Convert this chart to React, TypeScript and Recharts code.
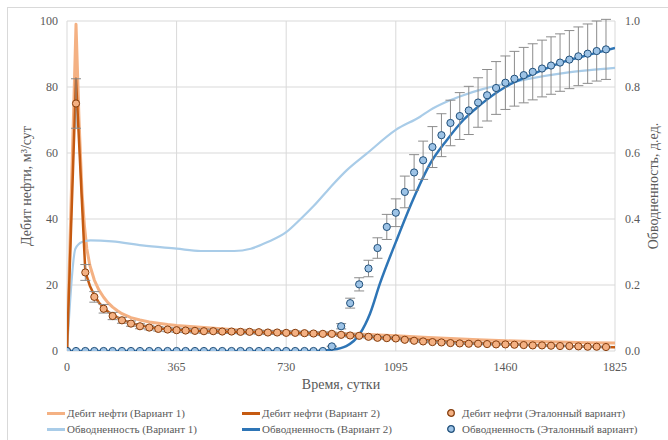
import React from 'react';
import { ComposedChart, Line, Scatter, XAxis, YAxis, CartesianGrid, ErrorBar, Label } from 'recharts';

// ---- reference ("Эталонный вариант") monthly points ----
const refDays = [0, 30, 61, 91, 122, 152, 183, 213, 243, 274, 304, 335, 365, 395, 426, 456, 487, 517, 548, 578, 608, 639, 669, 700, 730, 760, 791, 821, 852, 882, 913, 943, 973, 1004, 1034, 1065, 1095, 1125, 1156, 1186, 1217, 1247, 1277, 1308, 1338, 1369, 1399, 1429, 1460, 1490, 1521, 1551, 1582, 1612, 1642, 1673, 1703, 1734, 1764, 1795];
const refOil = [0, 75, 23.8, 16.4, 12.8, 10.6, 9.3, 8.3, 7.5, 7.1, 6.7, 6.5, 6.3, 6.2, 6.1, 6.0, 6.0, 5.9, 5.9, 5.8, 5.8, 5.7, 5.6, 5.6, 5.5, 5.5, 5.4, 5.3, 5.2, 5.2, 4.9, 4.7, 4.6, 4.3, 4.0, 3.9, 3.8, 3.4, 3.1, 2.9, 2.7, 2.6, 2.4, 2.3, 2.2, 2.2, 2.1, 2.0, 2.0, 1.9, 1.8, 1.7, 1.7, 1.6, 1.5, 1.5, 1.4, 1.3, 1.3, 1.2];
const refOilErr = [0, 7.5, 2.4, 1.6, 1.3, 1.1, 0.9, 0.8, 0.75, 0.7, 0.67, 0.65, 0.63, 0.62, 0.61, 0.6, 0.6, 0.59, 0.59, 0.58, 0.58, 0.57, 0.56, 0.56, 0.55, 0.55, 0.54, 0.53, 0.52, 0.52, 0.49, 0.47, 0.46, 0.43, 0.4, 0.39, 0.38, 0.34, 0.31, 0.29, 0.27, 0.26, 0.24, 0.23, 0.22, 0.22, 0.21, 0.2, 0.2, 0.19, 0.18, 0.17, 0.17, 0.16, 0.15, 0.15, 0.14, 0.13, 0.13, 0.12];
const refWater = [0, 0, 0, 0, 0, 0, 0, 0, 0, 0, 0, 0, 0, 0, 0, 0, 0, 0, 0, 0, 0, 0, 0, 0, 0, 0, 0, 0, 0, 0.014, 0.075, 0.145, 0.202, 0.25, 0.312, 0.376, 0.419, 0.482, 0.541, 0.578, 0.618, 0.654, 0.691, 0.712, 0.729, 0.753, 0.775, 0.797, 0.813, 0.825, 0.836, 0.846, 0.856, 0.865, 0.874, 0.883, 0.893, 0.901, 0.909, 0.914];
const refWaterErr = [0, 0, 0, 0, 0, 0, 0, 0, 0, 0, 0, 0, 0, 0, 0, 0, 0, 0, 0, 0, 0, 0, 0, 0, 0, 0, 0, 0, 0, 0.001, 0.008, 0.015, 0.02, 0.025, 0.031, 0.038, 0.042, 0.048, 0.054, 0.058, 0.062, 0.065, 0.069, 0.071, 0.073, 0.075, 0.078, 0.08, 0.081, 0.083, 0.084, 0.085, 0.086, 0.087, 0.087, 0.088, 0.089, 0.09, 0.091, 0.091];

// ---- Вариант 1 / Вариант 2 curves ----
const v1OilDays = [0, 30, 40, 50, 58, 66, 76, 91, 106, 122, 137, 152, 168, 183, 213, 243, 274, 304, 335, 365, 410, 456, 502, 547, 593, 639, 684, 730, 821, 912, 1004, 1095, 1186, 1277, 1369, 1460, 1551, 1642, 1734, 1825];
const v1Oil = [0, 99, 70, 48, 38, 31, 26, 21.5, 18.5, 16.3, 14.6, 13.3, 12.2, 11.3, 10.1, 9.4, 8.8, 8.4, 8.0, 7.7, 7.4, 7.1, 6.8, 6.5, 6.3, 6.1, 6.0, 5.8, 5.5, 5.3, 5.0, 4.6, 4.2, 3.8, 3.4, 3.1, 2.9, 2.7, 2.5, 2.4];
const v2OilDays = [0, 30, 61, 76, 91, 106, 122, 137, 152, 168, 183, 213, 243, 274, 304, 335, 365, 456, 547, 639, 730, 821, 882, 943, 1004, 1095, 1186, 1277, 1369, 1460, 1551, 1642, 1734, 1825];
const v2Oil = [0, 82.5, 24, 19.8, 16.9, 14.7, 13.1, 11.9, 11.0, 10.2, 9.5, 8.5, 7.8, 7.3, 6.9, 6.6, 6.4, 6.0, 5.8, 5.6, 5.5, 5.3, 5.2, 4.8, 4.4, 3.8, 3.3, 2.8, 2.4, 2.1, 1.8, 1.6, 1.3, 1.1];
const v1WaterDays = [0, 28, 50, 78, 150, 250, 365, 445, 557, 612, 668, 730, 778, 822, 876, 932, 998, 1095, 1176, 1209, 1264, 1320, 1390, 1460, 1550, 1653, 1740, 1825];
const v1Water = [0, 0.31, 0.33, 0.335, 0.332, 0.32, 0.31, 0.303, 0.303, 0.31, 0.33, 0.36, 0.40, 0.44, 0.495, 0.548, 0.598, 0.67, 0.71, 0.73, 0.755, 0.775, 0.795, 0.81, 0.827, 0.842, 0.851, 0.858];
const v2WaterDays = [0, 820, 882, 930, 976, 1009, 1042, 1095, 1153, 1209, 1264, 1320, 1375, 1460, 1542, 1653, 1740, 1825];
const v2Water = [0, 0, 0.004, 0.015, 0.053, 0.113, 0.204, 0.33, 0.46, 0.567, 0.638, 0.70, 0.745, 0.80, 0.835, 0.876, 0.898, 0.918];

// ---- axes ----
const xTicks = [0, 365, 730, 1095, 1460, 1825];
const leftTicks = [0, 20, 40, 60, 80, 100];
const rightTicks = [0, 0.2, 0.4, 0.6, 0.8, 1.0];

const seriesNames = [
  'Дебит нефти (Вариант 1)',
  'Дебит нефти (Вариант 2)',
  'Дебит нефти (Эталонный вариант)',
  'Обводненность (Вариант 1)',
  'Обводненность (Вариант 2)',
  'Обводненность (Эталонный вариант)',
];

const C = {
  v1Oil: '#F4B183',
  v2Oil: '#C55A11',
  refOilFill: '#F4B183',
  refOilStroke: '#843C0C',
  v1Water: '#A9CCE8',
  v2Water: '#2E75B6',
  refWaterFill: '#9DC3E6',
  refWaterStroke: '#1F4E79',
  grid: '#D9D9D9',
  text: '#595959',
  err: '#8C8C8C',
};

const FONT = "'Liberation Serif', 'Times New Roman', serif";

const zip = (days: number[], vals: number[], errs?: number[]) =>
  days.map((d, i) => (errs ? { day: d, v: vals[i], e: errs[i] } : { day: d, v: vals[i] }));

const refOilData = zip(refDays, refOil, refOilErr);
const refWaterData = zip(refDays, refWater, refWaterErr);
const v1OilData = zip(v1OilDays, v1Oil);
const v2OilData = zip(v2OilDays, v2Oil);
const v1WaterData = zip(v1WaterDays, v1Water);
const v2WaterData = zip(v2WaterDays, v2Water);

const tickStyle = { fontFamily: FONT, fontSize: 12, fill: C.text };

const makeDot = (fill: string, stroke: string) => (p: any) =>
  p.cx == null || p.cy == null ? <g /> : (
    <circle cx={p.cx} cy={p.cy} r={3.6} fill={fill} stroke={stroke} strokeWidth={1} />
  );

const LegendItem = ({ kind, color, stroke, label }: { kind: 'line' | 'dot'; color: string; stroke?: string; label: string }) => (
  <div style={{ display: 'flex', alignItems: 'center', height: 16 }}>
    {kind === 'line' ? (
      <div style={{ width: 18, height: 3, background: color, marginRight: 2 }} />
    ) : (
      <svg width={10} height={10} style={{ marginRight: 6 }}>
        <circle cx={5} cy={5} r={3.3} fill={color} stroke={stroke} strokeWidth={1.3} />
      </svg>
    )}
    <span style={{ fontFamily: FONT, fontSize: 11, color: C.text, whiteSpace: 'nowrap' }}>{label}</span>
  </div>
);

export default function App() {
  return (
    <div style={{ position: 'absolute', left: 0, top: 0, width: 668, height: 440, overflow: 'hidden', background: '#fff' }}>
      <div style={{ position: 'absolute', left: 7, top: 7, width: 720, height: 520, border: `1px solid ${C.grid}`, boxSizing: 'border-box' }} />
      <div style={{ position: 'absolute', left: 0, top: 0 }}>
        <ComposedChart width={668} height={440} margin={{ top: 21, right: 0, bottom: 0, left: 0 }}>
          <CartesianGrid stroke={C.grid} strokeWidth={1} yAxisId="left" />
          <XAxis
            dataKey="day"
            type="number"
            domain={[0, 1825]}
            ticks={xTicks}
            allowDataOverflow
            axisLine={false}
            tickLine={false}
            tickSize={6}
            tickMargin={5}
            height={89}
            tick={tickStyle}
            interval={0}
          >
            <Label
              content={(p: any) => {
                const vb = p.viewBox || {};
                return (
                  <text x={vb.x + vb.width / 2} y={vb.y + 38} textAnchor="middle" fontFamily={FONT} fontSize={14} fill={C.text}>
                    Время, сутки
                  </text>
                );
              }}
            />
          </XAxis>
          <YAxis
            yAxisId="left"
            orientation="left"
            domain={[0, 100]}
            ticks={leftTicks}
            allowDataOverflow
            axisLine={false}
            tickLine={false}
            tickSize={6}
            tickMargin={3}
            width={67}
            tick={tickStyle}
            interval={0}
          >
            <Label
              content={(p: any) => {
                const vb = p.viewBox || {};
                const x = vb.x + 31;
                const y = vb.y + vb.height / 2;
                return (
                  <text x={x} y={y} transform={`rotate(-90 ${x} ${y})`} textAnchor="middle" fontFamily={FONT} fontSize={14} fill={C.text}>
                    Дебит нефти, м³/сут
                  </text>
                );
              }}
            />
          </YAxis>
          <YAxis
            yAxisId="right"
            orientation="right"
            domain={[0, 1]}
            ticks={rightTicks}
            allowDataOverflow
            axisLine={false}
            tickLine={false}
            tickSize={6}
            tickMargin={4}
            width={53}
            tick={tickStyle}
            tickFormatter={(v: number) => v.toFixed(1)}
            interval={0}
          >
            <Label
              content={(p: any) => {
                const vb = p.viewBox || {};
                const x = vb.x + 43;
                const y = vb.y + vb.height / 2;
                return (
                  <text x={x} y={y} transform={`rotate(-90 ${x} ${y})`} textAnchor="middle" fontFamily={FONT} fontSize={14} fill={C.text}>
                    Обводненность, д.ед.
                  </text>
                );
              }}
            />
          </YAxis>

          <Line data={v1OilData} dataKey="v" yAxisId="left" type="linear" stroke={C.v1Oil} strokeWidth={3} strokeLinejoin="round" dot={false} activeDot={false} isAnimationActive={false} name={seriesNames[0]} />
          <Line data={v1WaterData} dataKey="v" yAxisId="right" type="monotone" stroke={C.v1Water} strokeWidth={2.2} dot={false} activeDot={false} isAnimationActive={false} name={seriesNames[3]} />
          <Line data={v2OilData} dataKey="v" yAxisId="left" type="linear" stroke={C.v2Oil} strokeWidth={2.5} strokeLinejoin="round" dot={false} activeDot={false} isAnimationActive={false} name={seriesNames[1]} />
          <Line data={v2WaterData} dataKey="v" yAxisId="right" type="monotone" stroke={C.v2Water} strokeWidth={2.5} dot={false} activeDot={false} isAnimationActive={false} name={seriesNames[4]} />

          <Scatter data={refOilData} dataKey="v" yAxisId="left" isAnimationActive={false} name={seriesNames[2]} shape={makeDot(C.refOilFill, C.refOilStroke)}>
            <ErrorBar dataKey="e" direction="y" width={5} stroke={C.err} strokeWidth={1} />
          </Scatter>
          <Scatter data={refWaterData} dataKey="v" yAxisId="right" isAnimationActive={false} name={seriesNames[5]} shape={makeDot(C.refWaterFill, C.refWaterStroke)}>
            <ErrorBar dataKey="e" direction="y" width={5} stroke={C.err} strokeWidth={1} />
          </Scatter>
        </ComposedChart>
      </div>

      <div style={{ position: 'absolute', left: 47, top: 405 }}>
        <LegendItem kind="line" color={C.v1Oil} label={seriesNames[0]} />
        <LegendItem kind="line" color={C.v1Water} label={seriesNames[3]} />
      </div>
      <div style={{ position: 'absolute', left: 242, top: 405 }}>
        <LegendItem kind="line" color={C.v2Oil} label={seriesNames[1]} />
        <LegendItem kind="line" color={C.v2Water} label={seriesNames[4]} />
      </div>
      <div style={{ position: 'absolute', left: 446, top: 405 }}>
        <LegendItem kind="dot" color={C.refOilFill} stroke={C.refOilStroke} label={seriesNames[2]} />
        <LegendItem kind="dot" color={C.refWaterFill} stroke={C.refWaterStroke} label={seriesNames[5]} />
      </div>
    </div>
  );
}
